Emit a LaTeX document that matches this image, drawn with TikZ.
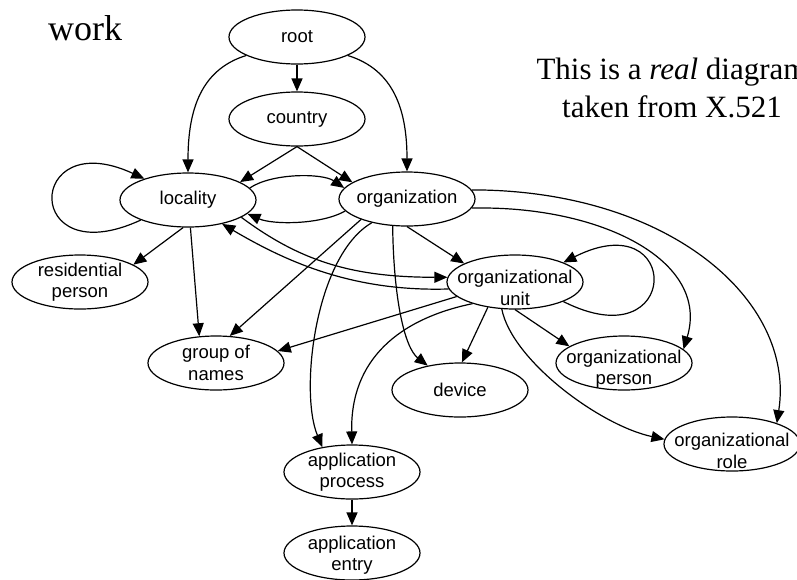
\documentclass[tikz,border=0pt]{standalone}
\usepackage{fontspec}
\setmainfont{Liberation Serif}
\newfontfamily\arialf{Liberation Sans}
\usetikzlibrary{shapes.geometric,arrows.meta}
\begin{document}
\begin{tikzpicture}[x=1pt,y=-1pt,
  ell/.style={ellipse,draw,line width=1.2pt,minimum width=136pt,minimum height=54pt,inner sep=0pt},
  lbl/.style={font=\arialf\fontsize{18.5}{21.5}\selectfont,align=center,inner sep=0pt},
  edge/.style={line width=1.2pt,-{Triangle[length=13pt,width=11pt]}},
  big/.style={font=\fontsize{36}{40}\selectfont,inner sep=0pt,anchor=base},
  note/.style={font=\fontsize{31}{38}\selectfont,inner sep=0pt,anchor=base}
]
\useasboundingbox (0,0) rectangle (797,579);

% ellipses
\node[ell] (R)  at (297,37)  {};
\node[ell] (C)  at (297,119) {};
\node[ell] (L)  at (188,200) {};
\node[ell] (O)  at (407,199) {};
\node[ell] (RP) at (80,282)  {};
\node[ell] (G)  at (216,363) {};
\node[ell] (U)  at (515,282) {};
\node[ell] (P)  at (624,363) {};
\node[ell] (D)  at (460,390) {};
\node[ell] (Ro) at (732,444) {};
\node[ell] (A)  at (352,472) {};
\node[ell] (E)  at (352,553) {};

% labels
\node[lbl] (R-t)  at (R)  {root};
\node[lbl] (C-t)  at (C)  {country};
\node[lbl] (L-t)  at (L)  {locality};
\node[lbl] (O-t)  at (O)  {organization};
\node[lbl] (RP-t) at (RP) {residential\\person};
\node[lbl] (G-t)  at (G)  {group of\\names};
\node[lbl,yshift=-6pt] (U-t)  at (U)  {organizational\\unit};
\node[lbl,yshift=-6pt] (P-t)  at (P)  {organizational\\person};
\node[lbl] (D-t)  at (D)  {device};
\node[lbl,yshift=-7pt] (Ro-t) at (Ro) {organizational\\role};
\node[lbl] (A-t)  at (A)  {application\\process};
\node[lbl,yshift=-2pt] (E-t)  at (E)  {application\\entry};

% free texts
\node[big] (ttl) at (294,-9) {g};
\node[big,anchor=base west] (work) at (48,40) {work};
\node[note] (n1) at (672,79) {This is a \textit{real} diagram};
\node[note] (n2) at (672,117) {taken from X.521};

% edges
\draw[edge] (R) -- (C);
\draw[edge] (R.200) .. controls +(-45,14) and +(0,-63) .. (L.north);
\draw[edge] (R.340) .. controls +(45,14) and +(0,-63) .. (O.north);
\draw[edge] (C.south) -- (L.19);
\draw[edge] (C.south) -- (O.163);
\draw[edge] (L.203) .. controls +(-119,55) and +(-119,-55) .. (L.154);
\draw[edge] (L.11) .. controls +(22,-15) and +(-22,-15) .. (O.170);
\draw[edge] (O.191) .. controls +(-25,14) and +(25,11) .. (L.347);
\draw[edge] (L.260) -- (RP.18);
\draw[edge] (L.275) -- (G.122);
\draw[edge] (O.204) -- (G.63);
\draw[edge] (O.270) -- (U.160);
\draw[edge] (L.342) .. controls +(58,43) and +(-97,0) .. (U.176);
\draw[edge] (U.186) .. controls +(-97,3) and +(63,37) .. (L.325);
\draw[edge] (O.242) .. controls +(1,74) and +(-23,-18) .. (D.143);
\draw[edge] (O.214) .. controls +(-57,33) and +(-23,-55) .. (A.140);
\draw[edge] (O.352) .. controls +(128,-3) and +(27,-89) .. (P.13);
\draw[edge] (O.8) .. controls +(197,0) and +(19,-123) .. (Ro.25);
\draw[edge] (U.338) .. controls +(119,60) and +(119,-60) .. (U.22);
\draw[edge] (U.194) -- (G.11);
\draw[edge] (U.207) .. controls +(-73,15) and +(-2,-85) .. (A.north);
\draw[edge] (U.223) -- (D.86);
\draw[edge] (U.270) -- (P.163);
\draw[edge] (U.244) .. controls +(10,51) and +(-65,-14) .. (Ro.176);
\draw[edge] (A) -- (E);
\end{tikzpicture}
\end{document}
